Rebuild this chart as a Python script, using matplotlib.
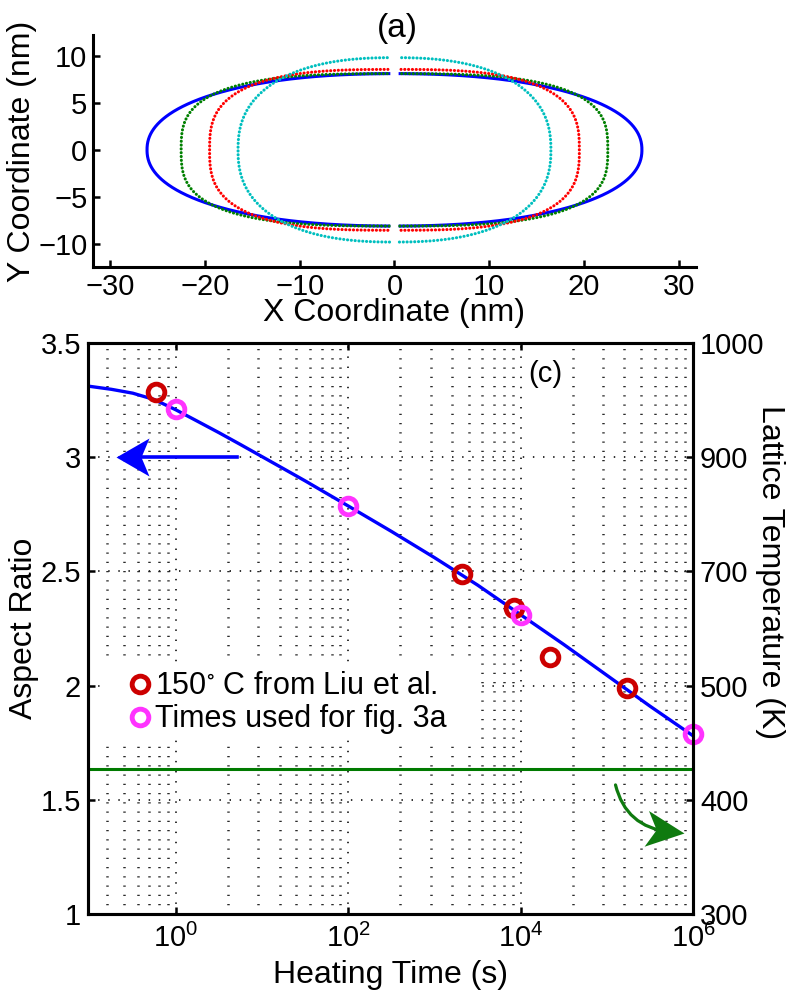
import numpy as np
import matplotlib
matplotlib.use('Agg')
import matplotlib.pyplot as plt
from matplotlib.patches import FancyArrowPatch, Rectangle
from matplotlib.path import Path
from matplotlib.transforms import Affine2D
from matplotlib.ticker import FixedLocator, LogFormatterSciNotation, NullFormatter

plt.rcParams['font.family'] = ['Liberation Sans', 'DejaVu Sans']
plt.rcParams['mathtext.default'] = 'regular'

# (a) particle outlines: semi-axes (nm) and squareness of each outline
semi_x = [26.1, 22.5, 19.5, 16.5]
semi_y = [8.1, 8.1, 8.55, 9.8]
squareness = [2.2, 3.0, 2.9, 2.4]
outline_colors = ['#0000ff', '#008000', '#ff0000', '#00bfbf']
outline_styles = ['-', ':', ':', ':']

# (c) aspect ratio vs heating time
heat_time = [0.1, 0.178, 0.316, 0.562, 1, 1.78, 3.16, 5.62, 10, 17.8, 31.6, 56.2, 100,
             316, 1000, 3160, 1e4, 3.16e4, 1e5, 3.16e5, 1e6]
aspect = [3.31, 3.297, 3.28, 3.252, 3.207, 3.157, 3.107, 3.055, 3.002, 2.949, 2.896, 2.841,
          2.786, 2.675, 2.56, 2.44, 2.31, 2.18, 2.045, 1.91, 1.78]

liu_time = [0.59, 2100, 8300, 22000, 1.7e5]
liu_aspect = [3.285, 2.49, 2.34, 2.125, 1.99]

used_time = [1, 100, 1e4, 1e6]
used_aspect = [3.21, 2.786, 2.31, 1.79]

lattice_level = 1.635
temp_tick_pos = [1, 1.5, 2, 2.5, 3, 3.5]
temp_tick_labels = ['300', '400', '500', '700', '900', '1000']


def head_marker(length, half_width, notch, angle):
    # swept-back arrow head with its tip at the origin, pointing along +x
    verts = [(0, 0), (-length, half_width), (-notch, 0), (-length, -half_width), (0, 0)]
    verts = Affine2D().rotate_deg(angle).transform(verts)
    codes = [Path.MOVETO, Path.LINETO, Path.LINETO, Path.LINETO, Path.CLOSEPOLY]
    size = 2 * np.max(np.abs(verts)) / 1.389  # pixels -> points
    return Path(verts, codes), size


fig = plt.figure(figsize=(7.88, 9.9), dpi=100)

# ---------- (a) ----------
ax1 = fig.add_axes([0.1180, 0.7303, 0.7652, 0.2343])
t = np.linspace(-np.pi / 2, np.pi / 2, 800)
for a, b, n, c, ls in zip(semi_x, semi_y, squareness, outline_colors, outline_styles):
    xs = a * np.abs(np.cos(t)) ** (2 / n)
    ys = b * np.sign(np.sin(t)) * np.abs(np.sin(t)) ** (2 / n)
    keep = xs >= 0.5
    for sgn in (1, -1):
        if ls == '-':
            ax1.plot(sgn * xs[keep], ys[keep], color=c, lw=2.2)
        else:
            ax1.plot(sgn * xs[keep], ys[keep], color=c, lw=2.2,
                     linestyle=(0, (0.05, 1.2)), dash_capstyle='round')

ax1.set_xlim(-31.8, 31.8)
ax1.set_ylim(-12.45, 12.2)
ax1.set_xticks([-30, -20, -10, 0, 10, 20, 30])
ax1.set_yticks([-10, -5, 0, 5, 10])
for s in ['top', 'right']:
    ax1.spines[s].set_visible(False)
for s in ['left', 'bottom']:
    ax1.spines[s].set_linewidth(2.2)
ax1.tick_params(direction='in', length=5, width=1.8, labelsize=21)
ax1.tick_params(axis='x', pad=4)
ax1.tick_params(axis='y', pad=4)
ax1.set_xlabel('X Coordinate (nm)', fontsize=23)
ax1.set_ylabel('Y Coordinate (nm)', fontsize=23)
ax1.xaxis.set_label_coords(0.5, -0.135)
ax1.yaxis.set_label_coords(-0.093, 0.5)
fig.text(397 / 788, 1 - 28 / 990, '(a)', fontsize=24, ha='center', va='center')

# ---------- (c) ----------
ax = fig.add_axes([0.1117, 0.0768, 0.7678, 0.5768])
ax.set_xscale('log')
ax.set_xlim(10 ** -1.02, 1e6)
ax.set_ylim(1, 3.5)

# grid: minor lines follow the two-decade major spacing
minor_pos = [k ** 2 * 10.0 ** d for d in (-2, 0, 2, 4) for k in range(2, 10)]
minor_pos = [m for m in minor_pos if 10 ** -1.02 < m < 1e6]
ax.xaxis.set_major_locator(FixedLocator([1, 1e2, 1e4, 1e6]))
ax.xaxis.set_major_formatter(LogFormatterSciNotation())
ax.xaxis.set_minor_locator(FixedLocator(minor_pos))
ax.xaxis.set_minor_formatter(NullFormatter())
ax.set_yticks([1, 1.5, 2, 2.5, 3, 3.5])
ax.set_yticklabels(['1', '1.5', '2', '2.5', '3', '3.5'])
ax.grid(True, which='major', color='#222222', lw=1.3, linestyle=(0, (0.8, 4.8)))
ax.grid(True, which='minor', axis='x', color='#2a2a2a', lw=1.8, linestyle=(0, (0.5, 3.2)))
ax.set_axisbelow(True)

# legend sits on an opaque white patch that hides the grid
ax.add_patch(Rectangle((0.028, 0.305), 0.612, 0.136, transform=ax.transAxes,
                       facecolor='white', edgecolor='none', zorder=1))

ax.axhline(lattice_level, color='#007a00', lw=2.2, zorder=2)
ax.plot(heat_time, aspect, color='#0000ff', lw=2.4, zorder=3)
ax.plot(liu_time, liu_aspect, 'o', ms=12, mfc='none', mec='#cc0000', mew=3.5,
        zorder=4, label=r'150$^{\circ}$ C from Liu et al.')
ax.plot(used_time, used_aspect, 'o', ms=12, mfc='none', mec='#ff33ff', mew=3.5,
        zorder=5, label='Times used for fig. 3a', clip_on=False)

# blue arrow pointing at the left axis
blue_head, blue_size = head_marker(33, 19, 25, 180)
ax.plot([5.1, 0.33], [3.0, 3.0], color='#0000ff', lw=2.6, zorder=6)
ax.plot([0.2], [3.0], marker=blue_head, ms=blue_size, color='#0000ff', mew=0, zorder=6)

# green curved arrow pointing at the right axis
ax.add_patch(FancyArrowPatch((1.26e5, 1.565), (5.3e5, 1.36),
                             connectionstyle='arc3,rad=0.35', arrowstyle='-',
                             color='#0f7a0f', lw=2.3, shrinkA=0, shrinkB=0, zorder=6))
green_head, green_size = head_marker(38, 18, 28, -7)
ax.plot([10 ** 5.895], [1.355], marker=green_head, ms=green_size, color='#0f7a0f',
        mew=0, zorder=6)

ax.text(545 / 788, 1 - 374 / 990, '(c)', transform=fig.transFigure,
        fontsize=21, ha='center', va='center')

leg = ax.legend(loc='upper left', bbox_to_anchor=(0.066, 0.425), frameon=False,
                fontsize=22, handlelength=0.8, handletextpad=0.1,
                labelspacing=0.1, borderpad=0, borderaxespad=0, numpoints=1)

for s in ax.spines.values():
    s.set_linewidth(2.2)
ax.tick_params(which='major', direction='in', length=5, width=1.8, labelsize=21,
               top=True, right=False)
ax.tick_params(which='minor', length=0)
ax.tick_params(axis='x', pad=7)
ax.tick_params(axis='y', pad=5)
ax.set_xlabel('Heating Time (s)', fontsize=23)
ax.set_ylabel('Aspect Ratio', fontsize=23)
ax.xaxis.set_label_coords(0.5, -0.08)
ax.yaxis.set_label_coords(-0.081, 0.5)

ax2 = ax.twinx()
ax2.set_ylim(1, 3.5)
ax2.set_yticks(temp_tick_pos)
ax2.set_yticklabels(temp_tick_labels)
ax2.tick_params(direction='in', length=5, width=1.8, labelsize=21, pad=5)
for s in ax2.spines.values():
    s.set_linewidth(2.2)
ax2.set_ylabel('Lattice Temperature (K)', fontsize=23, rotation=270, va='bottom')
ax2.yaxis.set_label_coords(1.102, 0.599)

fig.savefig('out.png', dpi=100)
